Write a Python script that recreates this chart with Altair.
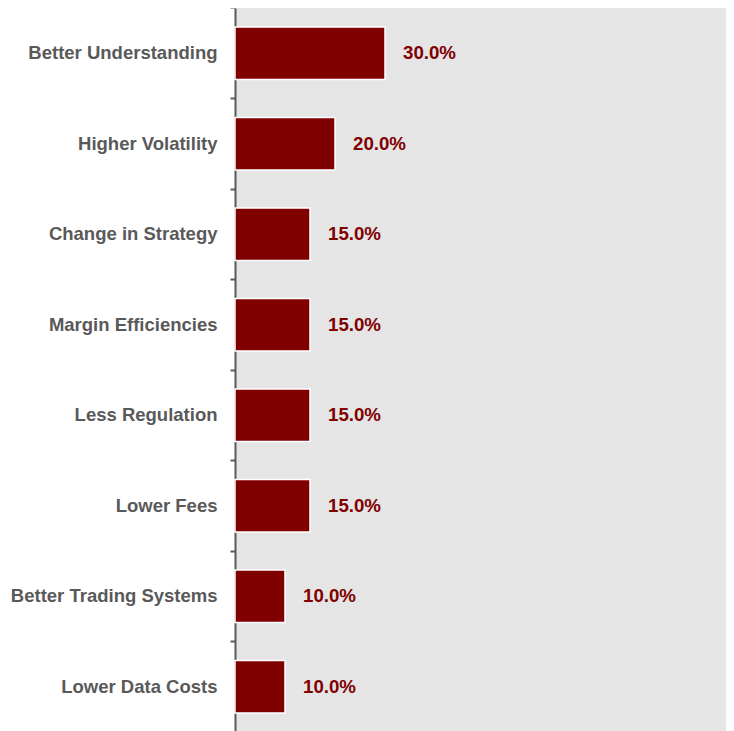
import altair as alt
import pandas as pd

categories = [
    "Better Understanding",
    "Higher Volatility",
    "Change in Strategy",
    "Margin Efficiencies",
    "Less Regulation",
    "Lower Fees",
    "Better Trading Systems",
    "Lower Data Costs",
]
values = [30.0, 20.0, 15.0, 15.0, 15.0, 15.0, 10.0, 10.0]

df = pd.DataFrame({"category": categories, "value": values})

FONT = "Liberation Sans"
RED = "#800000"
P_INNER = 0.42

y_enc = alt.Y(
    "category:N",
    sort=categories,
    title=None,
    scale=alt.Scale(paddingInner=P_INNER, paddingOuter=P_INNER / 2),
    axis=alt.Axis(
        bandPosition=-(P_INNER / 2) / (1 - P_INNER),
        domainColor="#595959",
        domainWidth=2,
        tickColor="#595959",
        tickWidth=2,
        tickSize=5,
        labelPadding=13,
        labelFont=FONT,
        labelFontSize=18.5,
        labelFontWeight="bold",
        labelColor="#595959",
        labelLimit=400,
    ),
)

x_enc = alt.X("value:Q", scale=alt.Scale(domain=[0, 98.2]), axis=None)

base = alt.Chart(df).encode(y=y_enc, x=x_enc)

bars = base.mark_bar(color=RED, stroke="white", strokeWidth=1.5)

text = base.transform_calculate(
    label="format(datum.value, '.1f') + '%'"
).mark_text(
    align="left",
    baseline="middle",
    dx=18,
    font=FONT,
    fontSize=18.7,
    fontWeight="bold",
    color=RED,
).encode(text="label:N")

chart = (
    alt.layer(bars, text)
    .properties(
        width=491,
        height=724,
        padding={"left": 227, "top": 0, "right": 0, "bottom": 0},
        autosize=alt.AutoSizeParams(type="none"),
    )
    .configure_view(fill="#E5E5E5", stroke=None)
)

chart.save("out.html", embed_options={"renderer": "svg", "actions": False})
